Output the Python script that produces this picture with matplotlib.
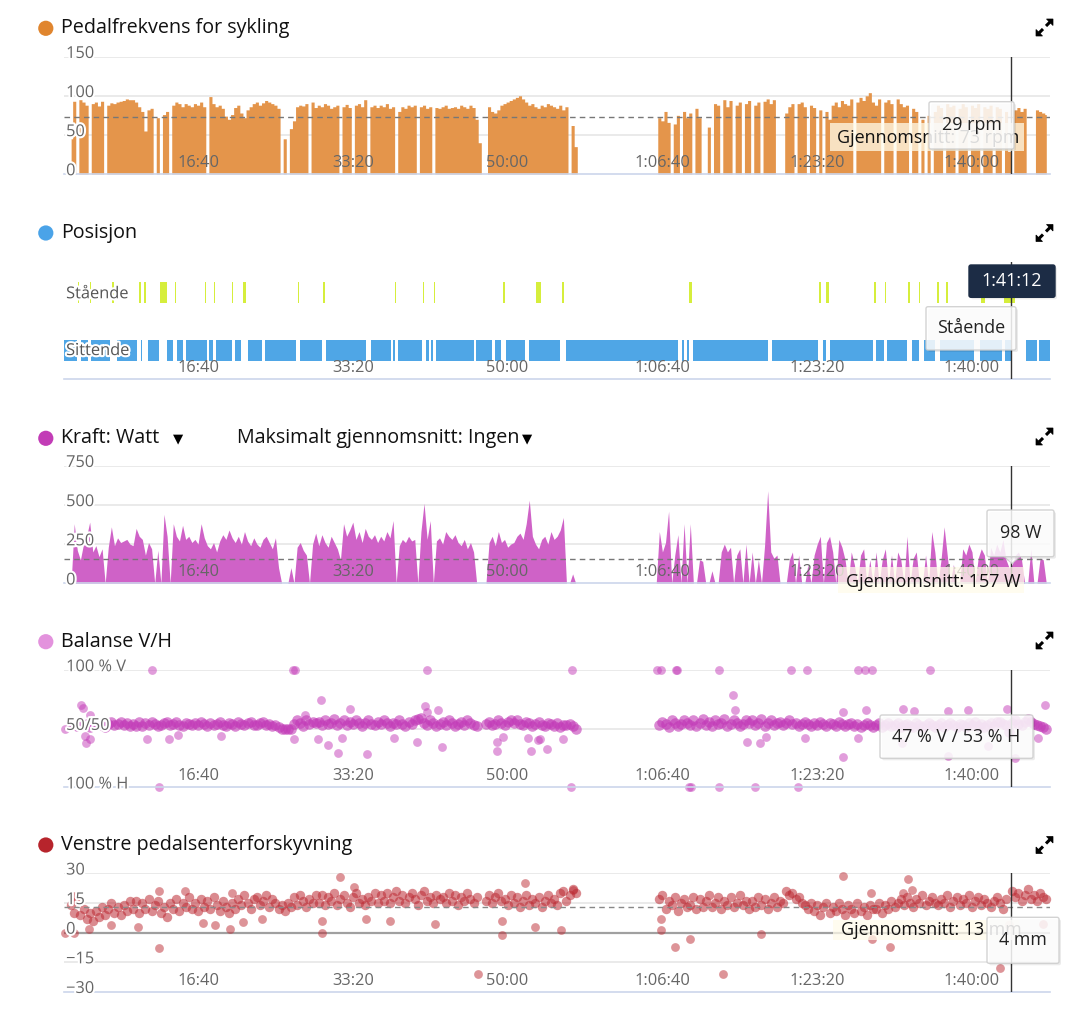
import numpy as np
import matplotlib
matplotlib.use('Agg')
import matplotlib.pyplot as plt
import matplotlib.patheffects as pe
from matplotlib.patches import FancyBboxPatch, Circle, Polygon, Rectangle

plt.rcParams['font.family'] = ['Open Sans', 'DejaVu Sans']

nan = float('nan')

# samples every 20 s, first sample at 180 s
t0, dt = 180, 20

cadence = [
    45, 93, 0, 95, 92, 88, 0, 90, 92, 87, 93, 0, 88, 91, 90, 92, 93, 94, 96, 95,
    95, 92, 86, 80, 55, 82, 84, 0, 72, 0, 76, 80, 0, 88, 92, 90, 86, 90, 88, 86,
    90, 88, 92, 86, 0, 99, 90, 86, 88, 84, 74, 70, 76, 85, 88, 78, 72, 82, 86, 90,
    92, 88, 91, 94, 92, 90, 88, 84, 0, 45, 0, 58, 68, 86, 88, 87, 90, 0, 92, 85,
    88, 86, 90, 88, 84, 86, 88, 0, 86, 89, 85, 0, 88, 90, 86, 95, 0, 86, 88, 85,
    88, 86, 90, 84, 86, 0, 80, 86, 84, 88, 86, 88, 0, 86, 88, 84, 86, 0, 85, 84,
    86, 88, 84, 85, 86, 84, 88, 86, 84, 88, 85, 70, 40, 0, 0, 86, 80, 78, 82, 88,
    90, 92, 94, 96, 98, 100, 96, 92, 88, 90, 86, 84, 88, 86, 90, 88, 86, 84, 88, 82,
    86, 0, 62, 35, 0, 0, 0, 0, 0, 0, 0, 0, 0, 0, 0, 0, 0, 0, 0, 0,
    0, 0, 0, 0, 0, 0, 0, 0, 0, 0, 72, 68, 80, 66, 0, 64, 75, 0, 80, 72,
    78, 0, 84, 72, 0, 0, 60, 0, 90, 88, 0, 95, 86, 94, 0, 88, 92, 0, 90, 94,
    0, 88, 92, 0, 93, 96, 90, 95, 0, 0, 0, 78, 86, 90, 0, 90, 92, 86, 0, 88,
    85, 0, 82, 0, 80, 70, 88, 92, 86, 94, 90, 88, 96, 0, 92, 98, 94, 100, 104, 92,
    88, 96, 0, 92, 95, 90, 0, 96, 90, 86, 88, 0, 84, 80, 0, 70, 0, 75, 0, 80,
    88, 85, 0, 90, 86, 88, 0, 84, 90, 86, 0, 88, 85, 90, 0, 86, 84, 88, 0, 86,
    84, 0, 80, 29, 0, 82, 85, 80, 84, 0, 0, 0, 82, 80, 78, 76,
]

power = [
    0, 380, 210, 150, 250, 300, 390, 200, 240, 170, 220, 0, 230, 360, 240, 290, 260, 270, 280, 250,
    240, 350, 300, 280, 180, 260, 220, 0, 210, 0, 440, 300, 0, 380, 300, 270, 370, 280, 300, 260,
    280, 250, 380, 290, 240, 220, 260, 200, 270, 310, 280, 340, 290, 260, 300, 250, 330, 270, 240, 290,
    250, 230, 280, 300, 260, 220, 290, 100, 0, 0, 0, 100, 0, 230, 260, 210, 180, 0, 250, 320,
    240, 310, 260, 230, 300, 260, 220, 150, 380, 300, 340, 390, 280, 330, 260, 350, 300, 280, 310, 260,
    300, 270, 330, 290, 400, 0, 240, 280, 260, 300, 270, 280, 0, 330, 510, 280, 400, 0, 270, 290,
    250, 330, 300, 280, 310, 260, 240, 280, 220, 260, 200, 0, 0, 0, 0, 260, 300, 240, 330, 260,
    280, 230, 250, 260, 300, 320, 280, 380, 530, 300, 250, 220, 280, 300, 250, 330, 280, 300, 340, 420,
    0, 0, 60, 0, 0, 0, 0, 0, 0, 0, 0, 0, 0, 0, 0, 0, 0, 0, 0, 0,
    0, 0, 0, 0, 0, 0, 0, 0, 0, 0, 330, 200, 260, 460, 0, 180, 310, 0, 380, 0,
    380, 0, 0, 150, 140, 0, 0, 80, 0, 0, 200, 250, 200, 230, 0, 180, 220, 0, 250, 0,
    200, 0, 150, 0, 240, 590, 200, 160, 180, 0, 0, 0, 150, 200, 0, 180, 0, 0, 120, 0,
    180, 250, 300, 0, 260, 300, 200, 0, 280, 230, 150, 0, 200, 120, 0, 180, 220, 0, 150, 0,
    200, 0, 150, 220, 0, 180, 0, 200, 150, 0, 300, 0, 160, 200, 0, 0, 180, 0, 330, 200,
    0, 150, 360, 180, 0, 120, 0, 0, 220, 180, 250, 200, 0, 160, 220, 180, 0, 230, 180, 250,
    200, 280, 150, 98, 120, 180, 200, 150, 0, 0, 220, 0, 0, 160, 150, 0,
]

# left share in %, 100 = 100 % V, 0 = 100 % H
balance = [
    53, 55, 52, 56, 53, 54, 51, 53, 56, 54, 53, 51, 54, 56, 53, 54, 56, 53, 55, 52,
    54, 52, 56, 52, 55, 53, 56, 54, 52, 53, 55, 56, 53, 54, 56, 53, 52, 55, 54, 53,
    55, 53, 56, 54, 52, 55, 53, 54, 56, 53, 52, 55, 54, 52, 56, 54, 53, 55, 56, 53,
    53, 55, 56, 53, 54, 52, 53, 51, 50, 50, 50, 50, 54, 57, 55, 52, 57, 54, 56, 55,
    56, 53, 57, 54, 55, 58, 53, 55, 57, 53, 56, 54, 57, 55, 52, 55, 57, 54, 53, 56,
    54, 57, 55, 52, 55, 54, 57, 54, 52, 56, 54, 57, 58, 59, 55, 53, 57, 55, 52, 54,
    56, 53, 57, 55, 52, 54, 56, 53, 57, 55, 53, 52, nan, nan, 54, 56, 53, 54, 57, 55,
    53, 56, 57, 55, 57, 54, 53, 56, 55, 52, 54, 56, 53, 52, 55, 54, 52, 55, 51, 53,
    53, 54, 52, 50, nan, nan, nan, nan, nan, nan, nan, nan, nan, nan, nan, nan, nan, nan, nan, nan,
    nan, nan, nan, nan, nan, nan, nan, nan, nan, nan, 53, 56, 54, 51, 57, 55, 52, 54, 57, 55,
    53, 57, 52, 55, 58, 53, 56, 52, 57, 54, 55, 58, 52, 54, 57, 55, 52, 54, 57, 55,
    57, 53, 55, 58, 52, 55, 57, 53, 55, 56, 53, 55, 57, 54, 55, 52, 54, 56, 54, 52,
    55, 53, 56, 54, 52, 55, 54, 52, 56, 54, 52, 54, 55, 52, 54, 51, 53, 55, 53, 51,
    53, 55, 51, 53, 55, 52, 53, 55, 51, 53, 54, 52, 51, 55, 53, 51, 53, 55, 53, 51,
    53, 55, 51, 53, 55, 53, 51, 54, 53, 51, 55, 53, 56, 52, 54, 51, 53, 55, 52, 56,
    56, 54, 53, 47, 55, 57, 54, 53, 56, 58, 56, 54, 53, 52, 51, 50,
]
bal_out_t = [140, 244, 256, 273, 267, 300, 302, 701, 745, 667, 813, 868, 1147, 1614, 1627,
             1619, 1691, 1793, 1775, 1840, 1904, 1930, 1982, 2092, 2265, 2412, 2466, 2476,
             2479, 2550, 2576, 2932, 2929, 2973, 3129, 3151, 3196, 3209, 3254, 3360, 3416,
             3410, 3962, 3989, 4085, 4094, 4172, 4183, 4363, 4363, 4456, 4468, 4546, 4601,
             4629, 4669, 4829, 4934, 4873, 4924, 5169, 5169, 5263, 5308, 5352, 5263, 5315,
             5727, 5554, 5626, 5845, 5972, 5845, 6226, 6278, 6472, 6424, 5548, 6103]
bal_out_v = [50, 70, 68, 38, 44, 62, 41, 100, 0, 41, 41, 45, 44, 100, 100,
             41, 62, 74, 41, 36, 29, 42, 67, 28, 42, 39, 69, 100,
             64, 66, 34, 39, 31, 43, 42, 31, 40, 41, 33, 41, 100,
             0, 100, 100, 100, 100, 0, 0, 100, 0, 79, 66, 39, 0,
             38, 43, 100, 100, 0, 42, 26, 64, 100, 100, 100, 42, 66,
             100, 67, 65, 65, 66, 27, 67, 25, 70, 42, 38, 35]

# left pedal platform centre offset, mm
offset = [
    14, 10, 16, 9, 12, 7, 10, 6, 11, 8, 13, 9, 12, 15, 10, 13, 9, 14, 11, 16,
    12, 16, 10, 15, 12, 17, 11, 14, 16, 10, 13, 8, 15, 12, 17, 11, 15, 13, 18, 12,
    15, 11, 17, 13, 16, 12, 18, 14, 11, 16, 13, 10, 15, 12, 17, 14, 19, 15, 12, 17,
    18, 14, 16, 19, 13, 17, 15, 12, 14, 11, 15, 13, 18, 14, 19, 16, 13, 17, 15, 19,
    15, 19, 14, 18, 16, 20, 14, 17, 19, 15, 13, 18, 20, 15, 17, 14, 18, 16, 20, 15,
    19, 16, 20, 15, 18, 21, 16, 19, 15, 18, 20, 17, 14, 19, 21, 16, 18, 15, 19, 17,
    18, 15, 20, 16, 19, 14, 18, 16, 20, 17, 15, 18, nan, nan, 16, 19, 15, 18, 20, 16,
    17, 14, 19, 15, 18, 13, 16, 19, 14, 17, 15, 18, 13, 16, 19, 15, 17, 14, 20, 21,
    16, 19, 22, 20, nan, nan, nan, nan, nan, nan, nan, nan, nan, nan, nan, nan, nan, nan, nan, nan,
    nan, nan, nan, nan, nan, nan, nan, nan, nan, nan, 17, 19, 12, 16, 14, 18, 11, 15, 17, 13,
    14, 18, 12, 17, 13, 16, 19, 13, 15, 18, 12, 16, 14, 18, 13, 15, 19, 14, 16, 12,
    16, 13, 18, 14, 17, 12, 15, 18, 13, 16, 15, 21, 19, 20, 17, 18, 15, 14, 12, 15,
    11, 14, 9, 13, 15, 10, 13, 11, 15, 12, 9, 14, 12, 10, 15, 11, 13, 9, 14, 12,
    12, 15, 10, 14, 12, 16, 13, 15, 17, 14, 18, 15, 13, 17, 15, 19, 14, 16, 18, 15,
    14, 17, 15, 19, 13, 16, 18, 14, 17, 15, 19, 13, 16, 18, 14, 17, 15, 13, 16, 18,
    15, 12, 17, 4, 21, 18, 20, 16, 19, 22, 17, 19, 16, 20, 18, 17,
]
off_out_t = [140, 199, 293, 745, 612, 438, 1035, 1107, 1207, 1291, 1413, 1917, 2008, 1801,
             1801, 2806, 2964, 3111, 3177, 2962, 2238, 2528, 2082, 913, 1220, 745, 189,
             4635, 4390, 4081, 4178, 5169, 5587, 5470, 5352, 6183, 3994, 3989, 5615, 5554,
             5348, 6457, 3425, 3348]
off_out_v = [0, 0, 2, -8, 3, 4, 5, 4, 2, 5.5, 7, 28, 23, 0,
             6, -21, -1.5, 25, 3, 6, 5.6, 4.4, 7, 21, 20, 21, 18.6,
             -1, -21, -7.3, -3.4, 28.6, 27, -7.3, -3.4, -18, 1.2, 6.6, 21.4, 20,
             19.9, 4.4, 21.4, 1.3]

# riding position segments (s)
sitt_start = [134, 244, 309, 474, 634, 677, 800, 864, 922, 1071, 1113, 1236, 1323, 1433,
              1659, 1827, 2116, 2260, 2289, 2473, 2505, 2537, 2796, 2918, 2990, 3138,
              3377, 4129, 4156, 4200, 4706, 5040, 5083, 5380, 5451, 5612, 5693, 5793,
              6052, 6216, 6349, 6433]
sitt_end = [215, 289, 432, 606, 641, 748, 839, 903, 1058, 1097, 1220, 1278, 1413, 1636,
            1801, 2082, 2247, 2273, 2447, 2492, 2518, 2783, 2899, 2955, 3112, 3338,
            4101, 4140, 4172, 4680, 5003, 5054, 5359, 5431, 5580, 5658, 5761, 6013,
            6194, 6261, 6417, 6504]
stand_start = [222, 304, 444, 616, 651, 755, 850, 908, 1044, 1103, 1218, 1291, 1646, 1807,
               2095, 2231, 2274, 2455, 2526, 2904, 2968, 3184, 3354, 4174, 4686, 5012,
               5054, 5370, 5438, 5589, 5655, 5771, 5835, 6061, 6210, 6349, 6459]
stand_end = [229, 307, 456, 630, 664, 797, 858, 911, 1052, 1110, 1229, 1307, 1652, 1820,
             2098, 2234, 2277, 2458, 2532, 2907, 2982, 3216, 3364, 4189, 4689, 5024,
             5077, 5377, 5444, 5597, 5664, 5787, 5845, 6087, 6276, 6352, 6462]

avg_cadence = 73
avg_power = 157
avg_offset = 13
cursor_t = 6252
tick_secs = [1000, 2000, 3000, 4000, 5000, 6000]

t = t0 + dt * np.arange(len(cadence))

W, H = 1080, 1011
XMIN, XMAX = 134, 6504
fig = plt.figure(figsize=(W / 100, H / 100), dpi=100)

GRID = '#E6E6E6'
AXLINE = '#CCD6EB'
LBL = '#666666'
halo = [pe.withStroke(linewidth=3, foreground='white')]


def px_axes(top, bottom, left=64, right=1050):
    return fig.add_axes([left / W, 1 - bottom / H, (right - left) / W, (bottom - top) / H])


def fmt_time(s):
    h, r = divmod(s, 3600)
    m, sec = divmod(r, 60)
    return f'{h}:{m:02d}:{sec:02d}' if h else f'{m}:{sec:02d}'


def setup(ax, ylim, grid_vals=(), ylabels=()):
    ax.set_xlim(XMIN, XMAX)
    ax.set_ylim(*ylim)
    ax.patch.set_alpha(0)
    for s in ['top', 'right', 'left']:
        ax.spines[s].set_visible(False)
    ax.spines['bottom'].set_color(AXLINE)
    ax.spines['bottom'].set_linewidth(1.2)
    ax.set_xticks([])
    ax.set_yticks([])
    for g in grid_vals:
        ax.axhline(g, color=GRID, lw=1.2, zorder=0)
    for v, s in ylabels:
        ax.annotate(s, xy=(0, v), xycoords=ax.get_yaxis_transform(), xytext=(1.5, 2),
                    textcoords='offset points', ha='left', va='center', fontsize=11.8,
                    color=LBL, zorder=6, path_effects=halo)
    for s in tick_secs:
        ax.annotate(fmt_time(s), xy=(s, 0), xycoords=ax.get_xaxis_transform(), xytext=(0, 8),
                    textcoords='offset points', ha='center', va='center', fontsize=11.8,
                    color=LBL, zorder=6)
    ax.axvline(cursor_t, color='#333333', lw=1, zorder=7)


# cadence
ax1 = px_axes(56.7, 174)
setup(ax1, (0, 150), [50, 100, 150], [(v, str(v)) for v in [0, 50, 100, 150]])
ax1.fill_between(t, cadence, step='mid', color='#E4954B', lw=0, zorder=2)
ax1.axhline(avg_cadence, color='#777777', lw=1, ls=(0, (4, 3)), zorder=3)

# position
ax2 = px_axes(261.8, 379.3)
setup(ax2, (-0.497, 1.522))
ax2.broken_barh([(a, b - a) for a, b in zip(sitt_start, sitt_end)], (-0.18, 0.36),
                color='#4FA6E6', lw=0, zorder=2)
ax2.broken_barh([(a, b - a) for a, b in zip(stand_start, stand_end)], (0.82, 0.36),
                color='#D6EE3C', lw=0, zorder=2)
for v, s, dy in [(1, 'Stående', -1.5), (0, 'Sittende', -0.5)]:
    ax2.annotate(s, xy=(0, v), xycoords=ax2.get_yaxis_transform(), xytext=(1.5, dy),
                 textcoords='offset points', ha='left', va='center', fontsize=11.8,
                 color='#555555', zorder=6, path_effects=halo)

# power
ax3 = px_axes(465.7, 583.3)
setup(ax3, (0, 750), [250, 500, 750], [(v, str(v)) for v in [0, 250, 500, 750]])
ax3.fill_between(t, power, color='#CF62C7', lw=0, zorder=2)
ax3.axhline(avg_power, color='#777777', lw=1, ls=(0, (4, 3)), zorder=3)

# balance
ax4 = px_axes(670, 787.3)
setup(ax4, (0, 100), [50, 100], [(0, '100 % H'), (50, '50/50'), (100, '100 % V')])
ax4.scatter(t, balance, s=58, color='#C23AB7', alpha=0.6, lw=0, zorder=2, clip_on=False)
ax4.scatter(bal_out_t, bal_out_v, s=40, color='#C43DB9', alpha=0.5, lw=0, zorder=2,
            clip_on=False)

# pedal offset
ax5 = px_axes(873.3, 991.7)
setup(ax5, (-30, 30), [30, 15, -15],
      [(-30, '\u221230'), (-15, '\u221215'), (0, '0'), (15, '15'), (30, '30')])
ax5.axhline(0, color='#A0A0A0', lw=1.6, zorder=1)
ax5.scatter(t, offset, s=46, color='#BC2A33', alpha=0.55, lw=0, zorder=2, clip_on=False)
ax5.scatter(off_out_t, off_out_v, s=40, color='#BC2A33', alpha=0.5, lw=0, zorder=2,
            clip_on=False)
ax5.axhline(avg_offset, color='#888888', lw=1, ls=(0, (4, 3)), zorder=3)

# overlay in pixel coordinates for headers and tooltips
ov = fig.add_axes([0, 0, 1, 1])
ov.set_xlim(0, W)
ov.set_ylim(H, 0)
ov.axis('off')
ov.patch.set_alpha(0)

z = [10]


def nz():
    z[0] += 1
    return z[0]


headers = [
    (28.3, '#E0852E', 'Pedalfrekvens for sykling'),
    (233, '#4AA3E8', 'Posisjon'),
    (438.3, '#C23CB6', 'Kraft: Watt'),
    (641.7, '#E392DD', 'Balanse V/H'),
    (845, '#B7242C', 'Venstre pedalsenterforskyvning'),
]
for y, c, s in headers:
    ov.add_patch(Circle((45.8, y), 7.6, color=c, lw=0))
    ov.text(61, y, s, fontsize=14.2, va='center', ha='left', color='#111111')
ov.text(173, 439, '\u25bc', fontsize=9.5, va='center', ha='left', family='DejaVu Sans')
ov.text(237, 438.3, 'Maksimalt gjennomsnitt: Ingen', fontsize=14.2, va='center', ha='left',
        color='#111111')
ov.text(522, 439, '\u25bc', fontsize=9.5, va='center', ha='left', family='DejaVu Sans')

# expand icons
for cy in [27.5, 233, 436.5, 640.5, 845]:
    cx = 1044.5
    for sx in (1, -1):
        tip = (cx + sx * 8.5, cy - sx * 8.5)
        ov.add_patch(Polygon([tip, (tip[0], tip[1] + sx * 6.5), (tip[0] - sx * 6.5, tip[1])],
                             closed=True, fc='black', ec='black', lw=0.5))
        ov.plot([cx + sx * 1.5, cx + sx * 5.5], [cy - sx * 1.5, cy - sx * 5.5],
                color='black', lw=2.2, solid_capstyle='butt')


def avg_label(x0, y0, x1, y1, tx, ty, s):
    ov.add_patch(Rectangle((x0, y0), x1 - x0, y1 - y0, fc='#FFFBEA', ec='none', alpha=0.75,
                           zorder=nz()))
    ov.text(tx, ty, s, fontsize=12.9, va='center', ha='left', color='#111111', zorder=nz())


def tooltip(x0, y0, x1, y1, s, fc='white', tc='#222222', alpha=0.85, edge='#CCCCCC'):
    ov.add_patch(FancyBboxPatch((x0 + 2, y0 + 2), x1 - x0, y1 - y0,
                                boxstyle='round,pad=0,rounding_size=2', fc='black',
                                ec='none', alpha=0.08, zorder=nz()))
    ov.add_patch(FancyBboxPatch((x0, y0), x1 - x0, y1 - y0,
                                boxstyle='round,pad=0,rounding_size=2', fc=fc, ec=edge,
                                lw=1, alpha=alpha, zorder=nz()))
    ov.text((x0 + x1) / 2, (y0 + y1) / 2, s, fontsize=12.9, va='center', ha='center',
            color=tc, zorder=nz())


avg_label(830, 123, 1024, 151, 837, 138.3, f'Gjennomsnitt: {avg_cadence} rpm')
tooltip(929, 101.7, 1014, 149, '29 rpm')

tooltip(969, 265, 1055, 297.3, '1:41:12', fc='#1C2C45', tc='white', alpha=1, edge='#1C2C45')
tooltip(926, 306.7, 1016, 350, 'Stående')

avg_label(838, 566.7, 1024, 593.3, 846, 581.7, f'Gjennomsnitt: {avg_power} W')
ov.add_patch(Polygon([(1004, 556.5), (1020, 556.5), (1012, 563.5)], closed=True,
                     fc='white', ec='#CCCCCC', lw=0.8, alpha=0.85, zorder=nz()))
tooltip(987, 510, 1054, 556.7, '98 W')

tooltip(880, 715, 1033, 758.3, '47 % V / 53 % H')

avg_label(833, 920, 1019, 940, 841, 930, f'Gjennomsnitt: {avg_offset} mm')
tooltip(987, 917.3, 1059, 963.3, '4 mm')

fig.savefig('out.png', dpi=100)
